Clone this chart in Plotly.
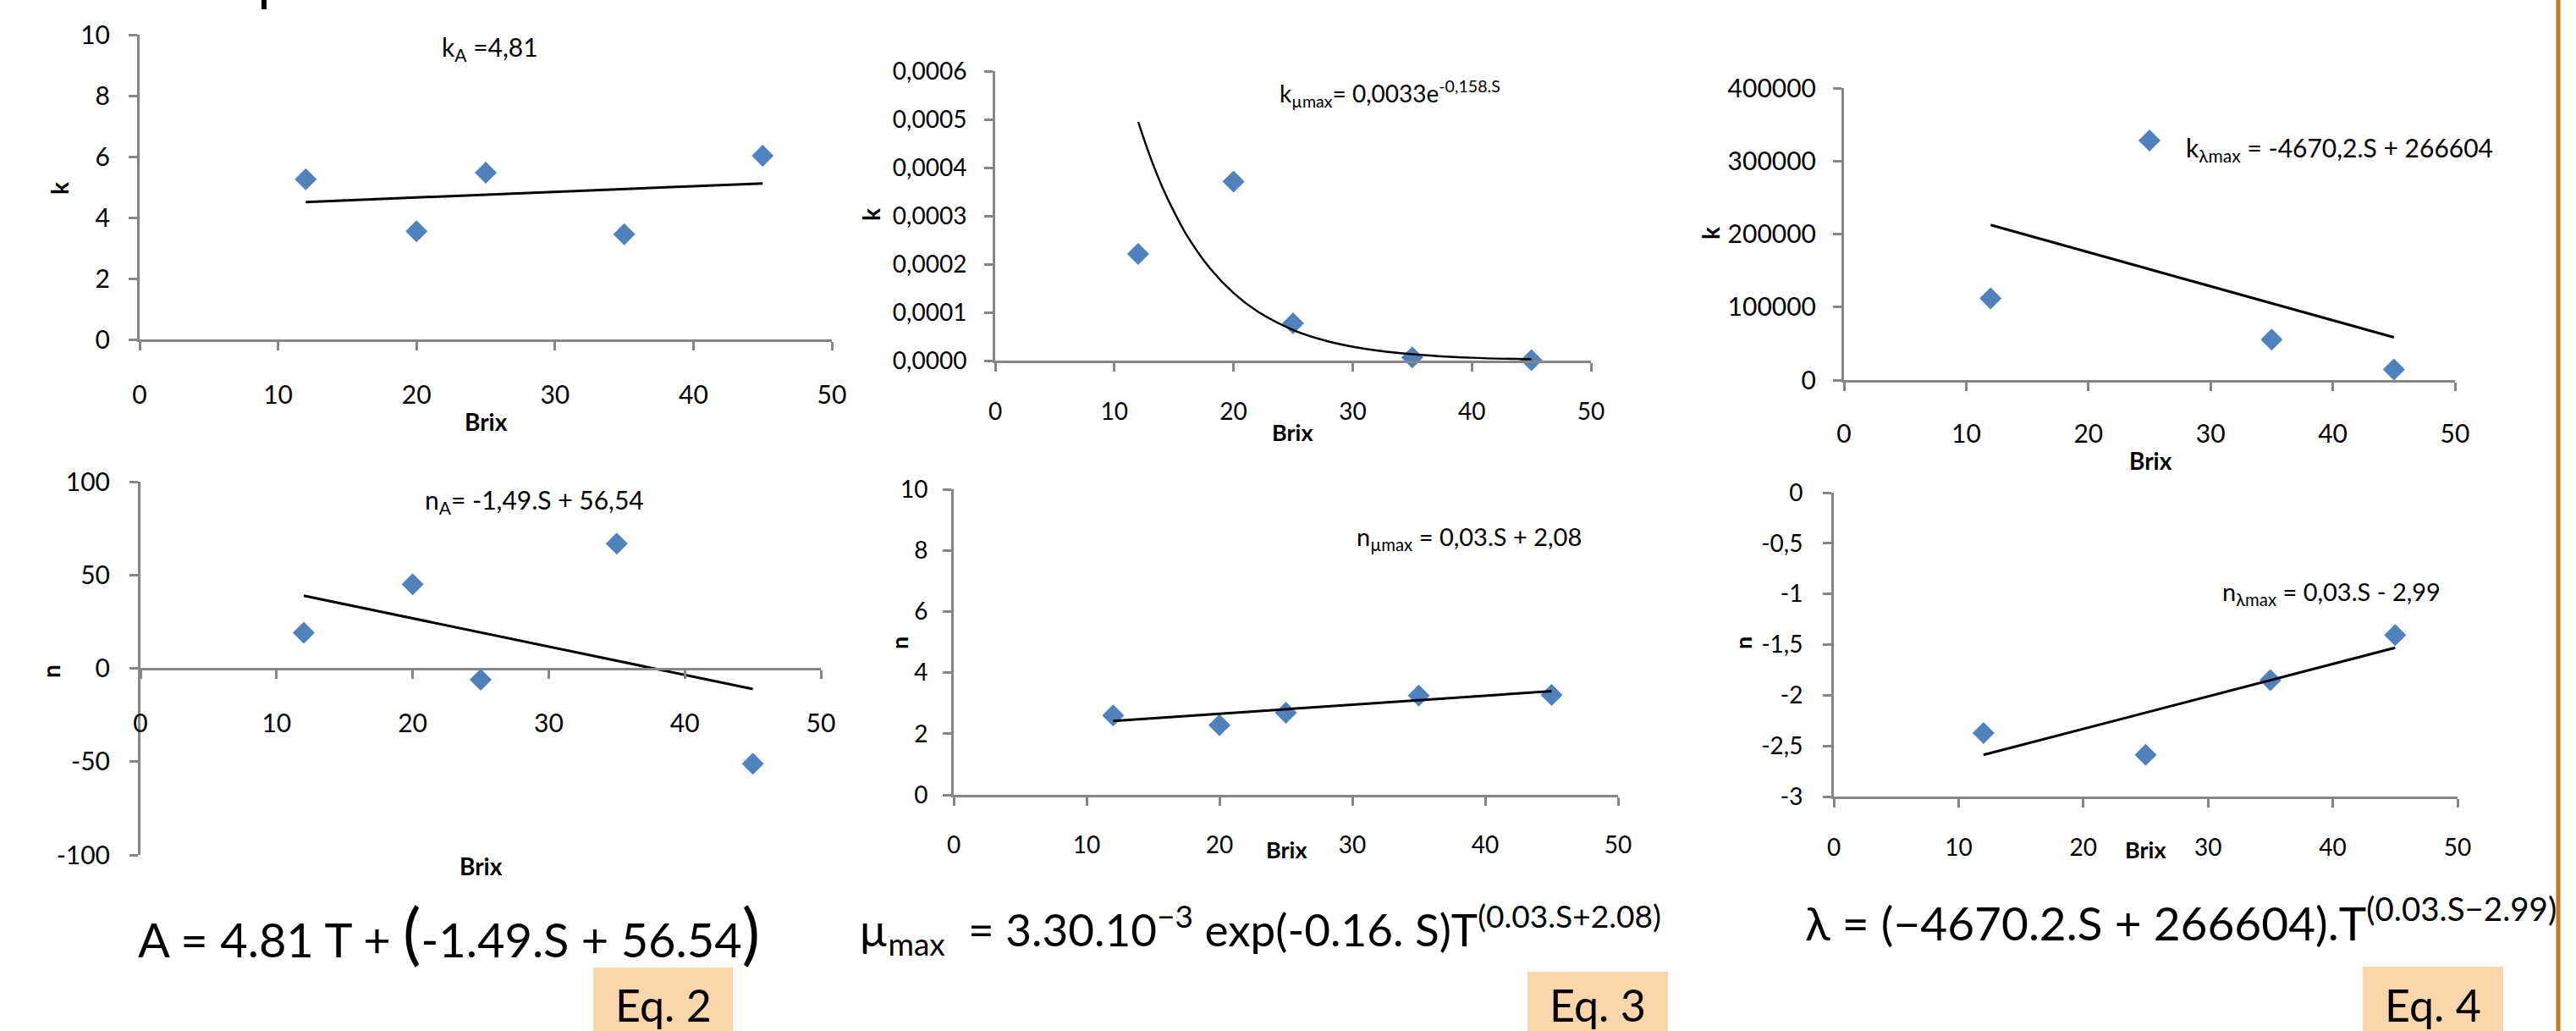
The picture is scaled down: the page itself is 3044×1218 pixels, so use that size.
import plotly.graph_objects as go

W, H = 3044, 1218

# ---------------- data ----------------
brix_kA = [12, 20, 25, 35, 45]
k_A = [5.26, 3.55, 5.47, 3.45, 6.03]
trend_kA_x = [12, 45]
trend_kA_y = [4.51, 5.12]

brix_kmu = [12, 20, 25, 35, 45]
k_mu = [0.000221, 0.000371, 0.0000773, 0.0000066, 0.0000010]
curve_kmu_x = [12, 13, 14, 15, 16, 18, 20, 22, 25, 28, 31, 35, 40, 45]
curve_kmu_y = [0.000495, 0.000423, 0.000361, 0.000309, 0.000263, 0.000192, 0.000140,
               0.000102, 0.0000635, 0.0000395, 0.0000246, 0.0000131, 0.0000059, 0.0000027]

brix_klam = [12, 25, 35, 45]
k_lam = [112000, 328000, 55400, 14600]
trend_klam_x = [12, 45]
trend_klam_y = [212400, 58500]

brix_nA = [12, 20, 25, 35, 45]
n_A = [19.0, 45.0, -6.1, 66.8, -51.1]
trend_nA_x = [12, 45]
trend_nA_y = [38.9, -11.1]

brix_nmu = [12, 20, 25, 35, 45]
n_mu = [2.60, 2.28, 2.69, 3.25, 3.27]
trend_nmu_x = [12, 45]
trend_nmu_y = [2.42, 3.39]

brix_nlam = [12, 25, 35, 45]
n_lam = [-2.374, -2.588, -1.851, -1.405]
trend_nlam_x = [12, 45]
trend_nlam_y = [-2.588, -1.531]

x_ticks = [0, 10, 20, 30, 40, 50]
x_ticklabels = ["0", "10", "20", "30", "40", "50"]
y1_ticks = [0, 2, 4, 6, 8, 10]
y1_labels = ["0", "2", "4", "6", "8", "10"]
y2_ticks = [0, 0.0001, 0.0002, 0.0003, 0.0004, 0.0005, 0.0006]
y2_labels = ["0,0000", "0,0001", "0,0002", "0,0003", "0,0004", "0,0005", "0,0006"]
y3_ticks = [0, 100000, 200000, 300000, 400000]
y3_labels = ["0", "100000", "200000", "300000", "400000"]
y4_ticks = [-100, -50, 0, 50, 100]
y4_labels = ["-100", "-50", "0", "50", "100"]
y5_ticks = [0, 2, 4, 6, 8, 10]
y5_labels = ["0", "2", "4", "6", "8", "10"]
y6_ticks = [-3, -2.5, -2, -1.5, -1, -0.5, 0]
y6_labels = ["-3", "-2,5", "-2", "-1,5", "-1", "-0,5", "0"]

# ---------------- styling ----------------
FONT = "Lato, Carlito, 'Open Sans', sans-serif"
AX_COLOR = "#868686"
MARK = "#4F81BD"

def px(x):
    return x / W

def py(y):
    return 1 - y / H

# panel boxes in pixels: (left, top, right, bottom)
panels = [
    dict(box=(165, 41, 983, 401), yr=[0, 10], yt=y1_ticks, yl=y1_labels, fs=30, xso=27, yso=16),
    dict(box=(1176, 84, 1880, 426), yr=[0, 0.0006], yt=y2_ticks, yl=y2_labels, fs=28, xso=23, yso=15),
    dict(box=(2179, 104, 2901, 449), yr=[0, 400000], yt=y3_ticks, yl=y3_labels, fs=30, xso=25, yso=14),
    dict(box=(166, 569, 970, 1010), yr=[-100, 100], yt=y4_ticks, yl=y4_labels, fs=30, xso=27, yso=17),
    dict(box=(1127, 578, 1912, 939), yr=[0, 10], yt=y5_ticks, yl=y5_labels, fs=28, xso=22, yso=12),
    dict(box=(2167, 582, 2904, 941), yr=[-3, 0], yt=y6_ticks, yl=y6_labels, fs=28, xso=23, yso=18),
]

fig = go.Figure()

series = [
    (brix_kA, k_A, trend_kA_x, trend_kA_y, "linear"),
    (brix_kmu, k_mu, curve_kmu_x, curve_kmu_y, "spline"),
    (brix_klam, k_lam, trend_klam_x, trend_klam_y, "linear"),
    (brix_nA, n_A, trend_nA_x, trend_nA_y, "linear"),
    (brix_nmu, n_mu, trend_nmu_x, trend_nmu_y, "linear"),
    (brix_nlam, n_lam, trend_nlam_x, trend_nlam_y, "linear"),
]

layout = {}
for i, (p, s) in enumerate(zip(panels, series), start=1):
    sx = "" if i == 1 else str(i)
    l, t, r, b = p["box"]
    common = dict(
        showline=True, linecolor=AX_COLOR, linewidth=3, ticks="outside", ticklen=10,
        tickwidth=3, tickcolor=AX_COLOR, showgrid=False, zeroline=False,
        tickfont=dict(family=FONT, size=p["fs"], color="black"),
        automargin=False, fixedrange=True,
    )
    xa = dict(common, domain=[px(l), px(r)], range=[0, 50], tickvals=x_ticks,
              ticktext=x_ticklabels, ticklabelstandoff=p["xso"], anchor="y" + sx)
    if i == 4:
        # x axis crosses at n = 0
        frac0 = (0 - p["yr"][0]) / (p["yr"][1] - p["yr"][0])
        xa["anchor"] = "free"
        xa["position"] = py(b) + frac0 * (py(t) - py(b))
    ya = dict(common, domain=[py(b), py(t)], range=p["yr"], tickvals=p["yt"],
              ticktext=p["yl"], ticklabelstandoff=p["yso"], anchor="x" + sx)
    layout["xaxis" + sx] = xa
    layout["yaxis" + sx] = ya

    bx, by, tx, ty, shape = s
    fig.add_trace(go.Scatter(
        x=bx, y=by, mode="markers", xaxis="x" + sx, yaxis="y" + sx,
        marker=dict(symbol="diamond", size=20, color=MARK, line=dict(width=0)),
        cliponaxis=False, hoverinfo="skip",
    ))
    fig.add_trace(go.Scatter(
        x=tx, y=ty, mode="lines", xaxis="x" + sx, yaxis="y" + sx,
        line=dict(color="black", width=2.4 if i == 2 else 3, shape=shape),
        cliponaxis=False, hoverinfo="skip",
    ))

annotations = []

def ann(text, x, y, size, xanchor="center", yanchor="middle", bold=False, angle=0, family=FONT):
    annotations.append(dict(
        text=("<b>%s</b>" % text) if bold else text,
        x=px(x), y=py(y), xref="paper", yref="paper", showarrow=False,
        xanchor=xanchor, yanchor=yanchor, textangle=angle, borderpad=0,
        font=dict(family=family, size=size, color="black"),
    ))

# axis titles
ann("k", 70, 223, 28, bold=True, angle=-90)
ann("Brix", 574, 498, 28, bold=True)
ann("k", 1029, 254, 28, bold=True, angle=-90)
ann("Brix", 1527, 510, 27, bold=True)
ann("k", 2021, 276, 28, bold=True, angle=-90)
ann("Brix", 2541, 544, 28, bold=True)
ann("n", 60, 793, 28, bold=True, angle=-90)
ann("Brix", 568, 1023, 28, bold=True)
ann("n", 1062, 760, 27, bold=True, angle=-90)
ann("Brix", 1520, 1003, 27, bold=True)
ann("n", 2059, 760, 27, bold=True, angle=-90)
ann("Brix", 2535, 1003, 27, bold=True)

# equation labels inside panels
ann("k<sub>A</sub> =4,81", 521, 57, 30, xanchor="left")
ann("k<sub>µmax</sub>= 0,0033e<sup>-0,158.S</sup>", 1511, 110, 28, xanchor="left")
ann("k<sub>λmax</sub> = -4670,2.S + 266604", 2582, 176, 30, xanchor="left")
ann("n<sub>A</sub>= -1,49.S + 56,54", 501, 592, 30, xanchor="left")
ann("n<sub>µmax</sub> = 0,03.S + 2,08", 1602, 635, 29, xanchor="left")
ann("n<sub>λmax</sub> = 0,03.S - 2,99", 2625, 700, 29, xanchor="left")

# big model equations
ann('A = 4.81 T + <span style="font-size:80px">(</span>-1.49.S + 56.54<span style="font-size:80px">)</span>',
    162, 1100, 56, xanchor="left")
ann("µ<sub>max</sub>  = 3.30.10<sup>−3</sup> exp(-0.16. S)T<sup>(0.03.S+2.08)</sup>",
    1014, 1098, 53, xanchor="left")
ann("λ = (−4670.2.S + 266604).T<sup>(0.03.S−2.99)</sup>",
    2132, 1086, 55, xanchor="left")

shapes = []
eq_boxes = [("Eq. 2", 701, 1143, 866), ("Eq. 3", 1805, 1148, 1971), ("Eq. 4", 2792, 1142, 2958)]
for label, x0, y0, x1 in eq_boxes:
    shapes.append(dict(type="rect", xref="paper", yref="paper", x0=px(x0), x1=px(x1),
                       y0=py(y0), y1=py(H + 5), fillcolor="#FBD5AC", line=dict(width=0), layer="below"))
    ann(label, (x0 + x1) / 2, 1187, 52)

# orange border line at right edge
shapes.append(dict(type="line", xref="paper", yref="paper", x0=px(3023), x1=px(3023),
                   y0=0, y1=1, line=dict(color="#C8781E", width=5)))
# clipped glyph descender at top-left
shapes.append(dict(type="rect", xref="paper", yref="paper", x0=px(309), x1=px(315),
                   y0=py(11), y1=1, fillcolor="black", line=dict(width=0)))

fig.update_layout(
    **layout,
    width=W, height=H, margin=dict(l=0, r=0, t=0, b=0, pad=0, autoexpand=False),
    paper_bgcolor="white", plot_bgcolor="rgba(0,0,0,0)",
    showlegend=False, annotations=annotations, shapes=shapes,
    font=dict(family=FONT),
)

fig.write_html(
    "out.html",
    config={"displayModeBar": False, "responsive": False},
    post_script="document.body.style.margin='0';document.body.style.overflow='hidden';",
)
